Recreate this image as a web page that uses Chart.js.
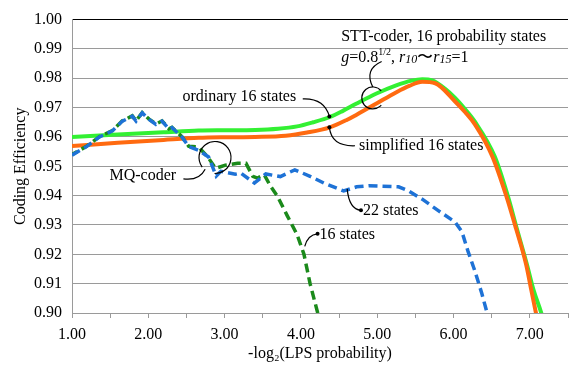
<!DOCTYPE html>
<html>
<head>
<meta charset="utf-8">
<script src="https://cdn.jsdelivr.net/npm/chart.js@4.4.0/dist/chart.umd.min.js"></script>
<style>
  html, body { margin: 0; padding: 0; background: #fff; overflow: hidden; }
  #wrap { width: 575px; height: 367px; }
</style>
</head>
<body>
<div id="wrap"><canvas id="chart"></canvas></div>
<script>
// x ticks every 0.5, only whole numbers get a label
const xTicks = [1.0, 1.5, 2.0, 2.5, 3.0, 3.5, 4.0, 4.5, 5.0, 5.5, 6.0, 6.5, 7.0, 7.5];

// STT-coder, ordinary 16 states
const ordinaryX = [1.00, 1.60, 2.20, 2.66, 3.00, 3.40, 3.70, 3.95, 4.16, 4.38, 4.55, 4.73, 4.99, 5.24, 5.45, 5.59, 5.72, 5.89, 6.02, 6.15, 6.28, 6.54, 6.71, 6.83, 6.96, 7.05, 7.15, 7.20];
const ordinaryY = [0.9600, 0.9608, 0.9616, 0.9622, 0.9623, 0.9624, 0.9628, 0.9636, 0.9650, 0.9668, 0.9689, 0.9714, 0.9748, 0.9775, 0.9792, 0.9797, 0.9793, 0.9764, 0.9733, 0.9695, 0.9652, 0.9533, 0.9400, 0.9287, 0.9167, 0.9077, 0.9000, 0.8950];

// STT-coder, simplified 16 states
const simplifiedX = [1.00, 1.60, 2.20, 2.66, 3.00, 3.40, 3.80, 4.08, 4.38, 4.60, 4.73, 4.99, 5.24, 5.42, 5.59, 5.76, 6.02, 6.15, 6.28, 6.51, 6.69, 6.82, 6.95, 7.02, 7.08, 7.12];
const simplifiedY = [0.9569, 0.9580, 0.9590, 0.9597, 0.9599, 0.9600, 0.9604, 0.9615, 0.9633, 0.9658, 0.9676, 0.9714, 0.9751, 0.9774, 0.9788, 0.9783, 0.9721, 0.9685, 0.9643, 0.9533, 0.9400, 0.9287, 0.9167, 0.9077, 0.9000, 0.8950];

// MQ-coder, 22 states
const mq22X = [1.00, 1.19, 1.36, 1.53, 1.66, 1.71, 1.79, 1.84, 1.92, 2.01, 2.10, 2.18, 2.27, 2.31, 2.44, 2.53, 2.66, 2.79, 2.89, 2.95, 3.14, 3.21, 3.39, 3.54, 3.73, 3.92, 4.12, 4.30, 4.56, 4.73, 4.89, 5.28, 5.41, 5.59, 5.80, 6.02, 6.11, 6.19, 6.28, 6.37, 6.44, 6.47];
const mq22Y = [0.9538, 0.9567, 0.9600, 0.9621, 0.9654, 0.9660, 0.9671, 0.9654, 0.9682, 0.9660, 0.9643, 0.9654, 0.9627, 0.9632, 0.9600, 0.9567, 0.9554, 0.9532, 0.9467, 0.9483, 0.9473, 0.9477, 0.9443, 0.9474, 0.9465, 0.9488, 0.9466, 0.9443, 0.9416, 0.9430, 0.9434, 0.9430, 0.9416, 0.9388, 0.9349, 0.9310, 0.9277, 0.9210, 0.9143, 0.9067, 0.9000, 0.8970];

// MQ-coder, 16 states
const mq16X = [1.00, 1.19, 1.36, 1.53, 1.66, 1.71, 1.79, 1.84, 1.92, 2.01, 2.10, 2.18, 2.27, 2.31, 2.44, 2.53, 2.66, 2.79, 2.88, 3.01, 3.17, 3.28, 3.37, 3.43, 3.52, 3.60, 3.69, 3.82, 3.95, 4.04, 4.12, 4.22, 4.25];
const mq16Y = [0.9540, 0.9568, 0.9601, 0.9622, 0.9655, 0.9661, 0.9672, 0.9655, 0.9683, 0.9661, 0.9644, 0.9655, 0.9628, 0.9633, 0.9601, 0.9568, 0.9566, 0.9528, 0.9493, 0.9504, 0.9510, 0.9510, 0.9466, 0.9460, 0.9471, 0.9433, 0.9399, 0.9332, 0.9267, 0.9200, 0.9100, 0.9000, 0.8970];

// annotation texts (anchored in data units)
const labels = [
  { text: 'STT-coder, 16 probability states', x: 4.528, y: 0.9940 },
  { text: 'ordinary 16 states', x: 2.447, y: 0.9737 },
  { text: 'simplified 16 states', x: 4.761, y: 0.9570 },
  { text: 'MQ-coder', x: 1.491, y: 0.9467 },
  { text: '22 states', x: 4.813, y: 0.9347 },
  { text: '16 states', x: 4.244, y: 0.9267 }
];
const leaders = [
  { from: [5.058, 0.9857], ctrl: [4.825, 0.9830], to: [4.942, 0.9770], dot: false },
  { from: [4.024, 0.9730], ctrl: [4.308, 0.9733], to: [4.373, 0.9670], dot: true },
  { from: [4.709, 0.9570], ctrl: [4.399, 0.9567], to: [4.373, 0.9633], dot: true },
  { from: [2.460, 0.9457], ctrl: [2.667, 0.9450], to: [2.745, 0.9490], dot: false },
  { from: [4.606, 0.9423], ctrl: [4.632, 0.9353], to: [4.787, 0.9350], dot: true },
  { from: [4.050, 0.9227], ctrl: [4.089, 0.9267], to: [4.218, 0.9270], dot: true }
];
const rings = [
  { x: 4.942, y: 0.9733, r: 11, start: -0.7, end: 0.7, back: true },
  { x: 2.874, y: 0.9530, r: 16, start: 2.5, end: 1.6, back: false }
];

const pts = (xs, ys) => xs.map((v, i) => ({ x: v, y: ys[i] }));

const serif = '"Liberation Serif", "Times New Roman", serif';
const gray = '#9a9a9a';

const notes = {
  id: 'notes',
  afterDatasetsDraw(chart) {
    const { ctx, scales: { x, y } } = chart;
    const px = v => x.getPixelForValue(v);
    const py = v => y.getPixelForValue(v);
    ctx.save();
    ctx.fillStyle = '#000';
    ctx.strokeStyle = '#000';
    ctx.lineWidth = 1.2;
    ctx.textAlign = 'left';
    ctx.textBaseline = 'middle';
    ctx.font = '16px ' + serif;
    labels.forEach(l => ctx.fillText(l.text, px(l.x), py(l.y)));

    // second line of the STT label, with italics, superscript, subscripts
    const parts = [
      ['g', 'italic ', 16, 0], ['=0.8', '', 16, 0], ['1/2', '', 10, -5], [', ', '', 16, 0],
      ['r', 'italic ', 16, 0], ['10', 'italic ', 12, 2], ['\u301C', '', 16, 0],
      ['r', 'italic ', 16, 0], ['15', 'italic ', 12, 2], ['=1', '', 16, 0]
    ];
    let cx = px(4.528);
    const cy = py(0.9870);
    parts.forEach(([t, st, sz, dy]) => {
      ctx.font = st + sz + 'px ' + serif;
      ctx.fillText(t, cx, cy + dy);
      cx += ctx.measureText(t).width;
    });

    leaders.forEach(l => {
      ctx.beginPath();
      ctx.moveTo(px(l.from[0]), py(l.from[1]));
      ctx.quadraticCurveTo(px(l.ctrl[0]), py(l.ctrl[1]), px(l.to[0]), py(l.to[1]));
      ctx.stroke();
      if (l.dot) {
        ctx.beginPath();
        ctx.arc(px(l.to[0]), py(l.to[1]), 2, 0, Math.PI * 2);
        ctx.fill();
      }
    });
    rings.forEach(r => {
      ctx.beginPath();
      ctx.arc(px(r.x), py(r.y), r.r, r.start, r.end, r.back);
      ctx.stroke();
    });
    ctx.restore();
  }
};

const ctx = document.getElementById('chart');
const myChart = new Chart(ctx, {
  type: 'line',
  data: {
    datasets: [
      { label: '22 states', data: pts(mq22X, mq22Y), borderColor: '#1e72d6', borderWidth: 3.5, borderDash: [9, 5], tension: 0 },
      { label: '16 states', data: pts(mq16X, mq16Y), borderColor: '#1b8a1b', borderWidth: 3.5, borderDash: [9, 5], borderDashOffset: 3, tension: 0 },
      { label: 'simplified 16 states', data: pts(simplifiedX, simplifiedY), borderColor: '#ff6a10', borderWidth: 4, cubicInterpolationMode: 'monotone' },
      { label: 'ordinary 16 states', data: pts(ordinaryX, ordinaryY), borderColor: '#33f033', borderWidth: 4, cubicInterpolationMode: 'monotone' }
    ]
  },
  options: {
    responsive: true,
    maintainAspectRatio: false,
    animation: false,
    devicePixelRatio: 1,
    layout: { padding: { top: 13, left: 0, right: 0, bottom: 0 } },
    elements: { point: { radius: 0 } },
    plugins: { legend: { display: false }, tooltip: { enabled: false } },
    scales: {
      x: {
        type: 'linear',
        min: 1,
        max: 7.5,
        afterBuildTicks: s => { s.ticks = xTicks.map(v => ({ value: v })); },
        afterFit: s => { s.height = 54; },
        ticks: {
          autoSkip: false,
          maxRotation: 0,
          padding: 7,
          color: '#000',
          font: { family: serif, size: 16 },
          callback: v => (Number.isInteger(v) ? v.toFixed(2) : '')
        },
        grid: { drawOnChartArea: false, tickLength: 5, color: gray },
        border: { color: gray },
        title: {
          display: true,
          text: '-log\u2082(LPS probability)',
          color: '#000',
          font: { family: serif, size: 16 },
          padding: { top: 0, bottom: 4 }
        }
      },
      y: {
        min: 0.9,
        max: 1.0,
        afterFit: s => { s.width = 72; },
        ticks: {
          stepSize: 0.01,
          padding: 10,
          color: '#000',
          font: { family: serif, size: 16 },
          callback: v => Number(v).toFixed(2)
        },
        grid: {
          drawTicks: false,
          color: c => (Math.abs(c.tick.value - 1) < 1e-6 ? '#000' : gray)
        },
        border: { color: gray },
        title: {
          display: true,
          text: 'Coding Efficiency',
          color: '#000',
          font: { family: serif, size: 16 },
          padding: { top: 11, bottom: 0 }
        }
      }
    }
  },
  plugins: [notes]
});
</script>
</body>
</html>
